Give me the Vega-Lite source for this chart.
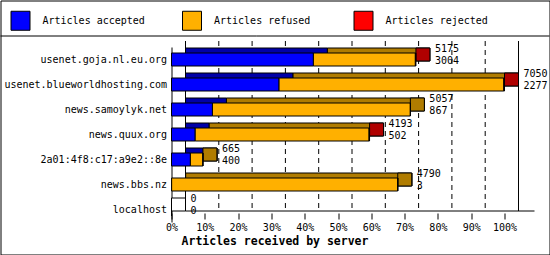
{
  "$schema": "https://vega.github.io/schema/vega-lite/v6.json",
  "width": 549,
  "height": 254,
  "padding": {"left": 0.5, "top": 0.5, "right": 0.5, "bottom": 0.5},
  "autosize": {"type": "none"},
  "background": "white",
  "config": {
    "view": {"stroke": "black", "strokeWidth": 1},
    "font": "DejaVu Sans Mono",
    "axis": {"labelColor": "black", "domainColor": "black", "tickColor": "black", "titleColor": "black"}
  },
  "datasets": {
    "hosts": [
      {"host": "usenet.goja.nl.eu.org", "accepted": 3004, "refused": 2159, "rejected": 12, "total": 5175},
      {"host": "usenet.blueworldhosting.com", "accepted": 2277, "refused": 4758, "rejected": 15, "total": 7050},
      {"host": "news.samoylyk.net", "accepted": 867, "refused": 4190, "rejected": 0, "total": 5057},
      {"host": "news.quux.org", "accepted": 502, "refused": 3681, "rejected": 10, "total": 4193},
      {"host": "2a01:4f8:c17:a9e2::8e", "accepted": 400, "refused": 265, "rejected": 0, "total": 665},
      {"host": "news.bbs.nz", "accepted": 3, "refused": 4787, "rejected": 0, "total": 4790},
      {"host": "localhost", "accepted": 0, "refused": 0, "rejected": 0, "total": 0}
    ],
    "grid": [
      {"g": 0}, {"g": 705}, {"g": 1410}, {"g": 2115}, {"g": 2820}, {"g": 3525},
      {"g": 4230}, {"g": 4935}, {"g": 5640}, {"g": 6345}, {"g": 7050}
    ]
  },
  "layer": [
    {
      "data": {"name": "grid"},
      "transform": [{"filter": "datum.g > 0 && datum.g < 7050"}],
      "mark": {"type": "rule", "color": "black", "strokeDash": [5, 4], "xOffset": 14, "yOffset": -18.5, "y2Offset": 1.5},
      "encoding": {
        "x": {"field": "g", "type": "quantitative", "scale": {"domain": [0, 7050], "range": [171, 504], "nice": false, "zero": true}},
        "y": {
          "datum": "usenet.goja.nl.eu.org", "type": "nominal",
          "scale": {
            "domain": ["usenet.goja.nl.eu.org", "usenet.blueworldhosting.com", "news.samoylyk.net", "news.quux.org", "2a01:4f8:c17:a9e2::8e", "news.bbs.nz", "localhost"],
            "range": [46.5, 221.5], "paddingInner": 0, "paddingOuter": 0
          }
        },
        "y2": {"datum": "localhost"}
      }
    },
    {
      "data": {"name": "grid"},
      "transform": [{"filter": "datum.g == 0 || datum.g == 7050"}],
      "mark": {"type": "rule", "color": "black", "xOffset": 14, "yOffset": -18.5, "y2Offset": 1.5},
      "encoding": {
        "x": {"field": "g", "type": "quantitative"},
        "y": {"datum": "usenet.goja.nl.eu.org", "type": "nominal"},
        "y2": {"datum": "localhost"}
      }
    },
    {
      "data": {"name": "grid"},
      "transform": [{"filter": "datum.g == 0"}],
      "mark": {"type": "rule", "color": "black", "xOffset": 14, "x2Offset": 30, "yOffset": 1.5},
      "encoding": {
        "x": {"datum": 0, "type": "quantitative"},
        "x2": {"datum": 7050},
        "y": {"datum": "localhost", "type": "nominal"}
      }
    },
    {
      "data": {"name": "grid"},
      "transform": [{"filter": "datum.g == 0"}],
      "mark": {"type": "rule", "color": "black", "yOffset": -23.5},
      "encoding": {
        "y": {"datum": "usenet.goja.nl.eu.org", "type": "nominal"}
      }
    },
    {
      "data": {"name": "hosts"},
      "transform": [{"fold": ["accepted", "refused", "rejected"], "as": ["part", "value"]}],
      "mark": {"type": "bar", "height": 13, "stroke": "black", "strokeWidth": 1, "xOffset": 14, "x2Offset": 14, "yOffset": -5},
      "encoding": {
        "x": {"field": "value", "type": "quantitative", "stack": "zero"},
        "y": {"field": "host", "type": "nominal", "sort": null},
        "detail": {"field": "part", "type": "nominal"},
        "fill": {
          "condition": [
            {"test": "datum.part == 'accepted'", "value": "#0000a8"},
            {"test": "datum.part == 'refused'", "value": "#b07c00"}
          ],
          "value": "#b00000"
        },
        "order": {"field": "part"}
      }
    },
    {
      "data": {"name": "hosts"},
      "mark": {"type": "bar", "height": 13, "stroke": "black", "strokeWidth": 1, "x2Offset": 14, "yOffset": -5},
      "encoding": {
        "x": {"field": "total", "type": "quantitative"},
        "x2": {"field": "total"},
        "y": {"field": "host", "type": "nominal", "sort": null},
        "fill": {
          "condition": [
            {"test": "datum.total == 0", "value": "white"},
            {"test": "datum.rejected > 0", "value": "#b00000"},
            {"test": "datum.refused > 0", "value": "#b07c00"}
          ],
          "value": "#0000a8"
        }
      }
    },
    {
      "data": {"name": "hosts"},
      "transform": [{"fold": ["accepted", "refused", "rejected"], "as": ["kind", "value"]}],
      "mark": {"type": "bar", "height": 13, "stroke": "black", "strokeWidth": 1},
      "encoding": {
        "x": {
          "field": "value", "type": "quantitative", "stack": "zero",
          "axis": {
            "orient": "bottom", "offset": -41.5, "domain": false, "grid": false,
            "values": [0, 705, 1410, 2115, 2820, 3525, 4230, 4935, 5640, 6345, 7050],
            "labelExpr": "round(datum.value / 70.5) + '%'", "labelFlush": false, "labelOverlap": false,
            "tickSize": 6, "labelPadding": 3, "labelFontSize": 10, "labelFont": "DejaVu Sans Mono",
            "title": "Articles received by server", "titleFont": "DejaVu Sans Mono", "titleFontSize": 11.5, "titleFontWeight": "bold",
            "titleX": 274, "titleY": 28, "titleBaseline": "middle", "titleAnchor": "middle"
          }
        },
        "y": {
          "field": "host", "type": "nominal", "sort": null,
          "axis": {
            "orient": "left", "offset": -171, "domain": true, "ticks": false,
            "labelPadding": 5, "labelFontSize": 10, "labelFont": "DejaVu Sans Mono", "title": null
          }
        },
        "color": {
          "field": "kind", "type": "nominal",
          "scale": {"domain": ["accepted", "refused", "rejected"], "range": ["#0000ff", "#ffb000", "#ff0000"]},
          "legend": {
            "orient": "none", "legendX": 10, "legendY": 10, "direction": "horizontal", "columns": 3,
            "title": null, "symbolType": "square", "symbolSize": 361, "symbolStrokeColor": "black", "symbolStrokeWidth": 1,
            "labelFontSize": 10, "labelFont": "DejaVu Sans Mono", "labelColor": "black", "labelOffset": 12,
            "columnPadding": 34.5, "gridAlign": "all",
            "labelExpr": "'Articles ' + datum.label"
          }
        },
        "order": {"field": "kind"}
      }
    },
    {
      "data": {"name": "hosts"},
      "mark": {"type": "text", "align": "left", "baseline": "middle", "dx": 19, "dy": -10.5, "fontSize": 10, "color": "black"},
      "encoding": {
        "x": {"field": "total", "type": "quantitative"},
        "y": {"field": "host", "type": "nominal", "sort": null},
        "text": {"field": "total", "type": "quantitative", "format": "d"}
      }
    },
    {
      "data": {"name": "hosts"},
      "mark": {"type": "text", "align": "left", "baseline": "middle", "dx": 19, "dy": 1.5, "fontSize": 10, "color": "black"},
      "encoding": {
        "x": {"field": "total", "type": "quantitative"},
        "y": {"field": "host", "type": "nominal", "sort": null},
        "text": {"field": "accepted", "type": "quantitative", "format": "d"}
      }
    }
  ]
}
